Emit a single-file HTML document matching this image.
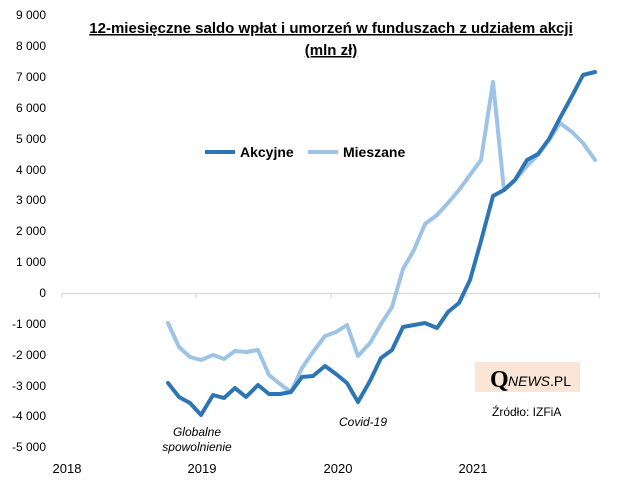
<!DOCTYPE html>
<html><head><meta charset="utf-8"><style>
body{margin:0;background:#fff;}
</style></head><body>
<svg width="624" height="491" xmlns="http://www.w3.org/2000/svg" font-family="Liberation Sans, sans-serif">
<rect width="624" height="491" fill="#fff"/>
<g font-size="12" fill="#000" text-anchor="end">
<text x="46" y="19">9 000</text><text x="46" y="50">8 000</text><text x="46" y="81">7 000</text>
<text x="46" y="112">6 000</text><text x="46" y="143">5 000</text><text x="46" y="174">4 000</text>
<text x="46" y="204">3 000</text><text x="46" y="235">2 000</text><text x="46" y="266">1 000</text>
<text x="46" y="297">0</text><text x="46" y="328">-1 000</text><text x="46" y="359">-2 000</text>
<text x="46" y="390">-3 000</text><text x="46" y="420">-4 000</text><text x="46" y="451">-5 000</text>
</g>
<g stroke="#d9d9d9" stroke-width="1.2">
<line x1="62" y1="293.5" x2="600" y2="293.5"/>
<line x1="62" y1="293" x2="62" y2="298"/><line x1="196" y1="293" x2="196" y2="298"/>
<line x1="331" y1="293" x2="331" y2="298"/><line x1="466" y1="293" x2="466" y2="298"/>
<line x1="599" y1="293" x2="599" y2="298"/>
</g>
<g font-size="13" text-anchor="middle">
<text x="67" y="473">2018</text><text x="202" y="473">2019</text><text x="338" y="473">2020</text><text x="473" y="473">2021</text>
</g>
<polyline fill="none" stroke="#9dc3e6" stroke-width="4" stroke-linejoin="round" stroke-linecap="round"
points="168,323 179,347 190,357 201,360 213,355 224,359 235,351 246,352 258,350 269,375 280,384 291,392 302,368 313,352 325,336 336,332 347,325 358,356 370,343 381,324 392,307 403,269 414,250 425,224 437,215 448,203 459,190 470,175 481,160 493,82 504,190 515,180 527,166 538,155 549,140 560,123 572,132 583,143 595,160"/>
<polyline fill="none" stroke="#2e75b6" stroke-width="4" stroke-linejoin="round" stroke-linecap="round"
points="168,383 179,397 190,403 201,415 213,395 224,398 235,388 246,397 258,385 269,394 280,394 291,392 302,377 313,376 325,366 336,374 347,383 358,402 370,381 381,358 392,350 403,327 414,325 425,323 437,328 448,312 459,303 470,280 481,241 493,196 504,190 515,180 527,160 538,154 549,139 560,118 572,96 583,75 595,72"/>
<g font-size="15" font-weight="bold" text-anchor="middle" text-decoration="underline">
<text x="331" y="33">12-miesięczne saldo wpłat i umorzeń w funduszach z udziałem akcji</text>
<text x="331" y="55">(mln zł)</text>
</g>
<line x1="205" y1="152" x2="235" y2="152" stroke="#2e75b6" stroke-width="4"/>
<text x="240" y="157" font-size="14" font-weight="bold">Akcyjne</text>
<line x1="308" y1="152" x2="338" y2="152" stroke="#9dc3e6" stroke-width="4"/>
<text x="343" y="157" font-size="14" font-weight="bold">Mieszane</text>
<g font-size="12" font-style="italic" text-anchor="middle">
<text x="197" y="436">Globalne</text><text x="197" y="451">spowolnienie</text>
<text x="363" y="426">Covid-19</text>
</g>
<rect x="475" y="362" width="105" height="30" fill="#fbe5d6"/>
<text x="490" y="387" font-family="Liberation Serif, serif" font-size="24" font-weight="bold">Q</text>
<text x="508" y="386" font-size="14"><tspan font-style="italic">NEWS</tspan><tspan>.PL</tspan></text>
<text x="492" y="416" font-size="12">Źródło: IZFiA</text>
</svg>
</body></html>
